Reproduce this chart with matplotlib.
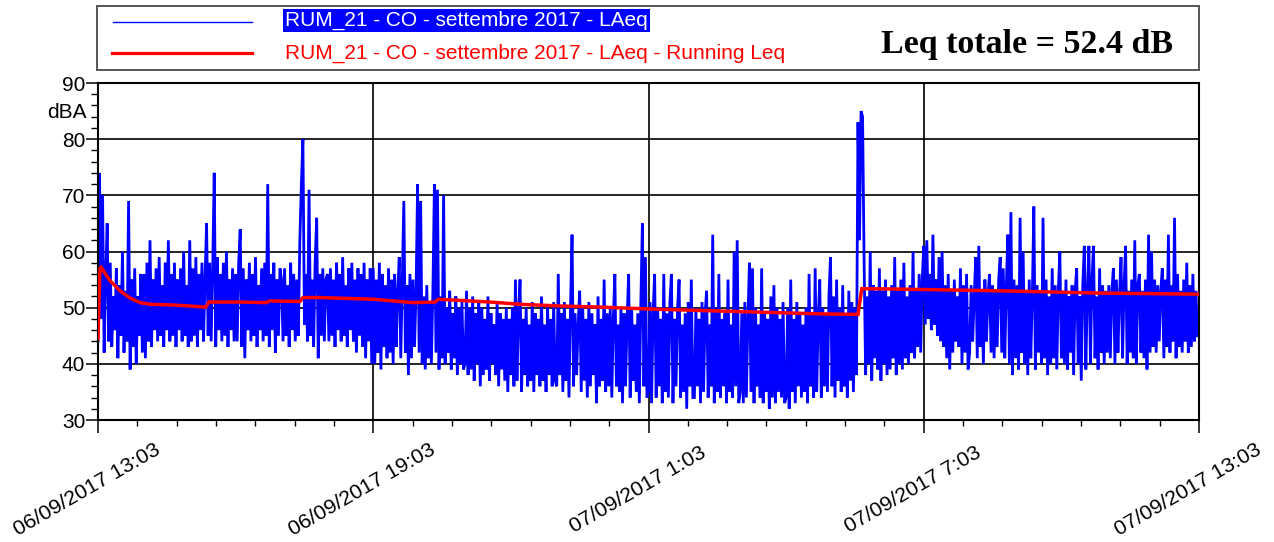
import numpy as np
import matplotlib
matplotlib.use("Agg")
import matplotlib.pyplot as plt
from matplotlib.lines import Line2D
from matplotlib.transforms import ScaledTranslation

# ---------------------------------------------------------------
# LAeq samples every 2 minutes starting 06/09/2017 13:03 (one row per hour)
laeq_rows = [
    [44, 74, 48, 70, 42, 55, 65, 44, 58, 43, 52, 46, 57, 41, 54, 45, 60, 42, 53, 44, 69, 39, 55, 43, 57, 40, 52, 45, 56, 42],
    [56, 41, 58, 44, 62, 43, 55, 46, 57, 44, 59, 45, 54, 43, 58, 46, 62, 44, 56, 45, 58, 43, 55, 46, 57, 44, 60, 45, 54, 43],
    [62, 44, 57, 45, 59, 43, 56, 46, 58, 44, 55, 65, 45, 58, 44, 57, 74, 43, 59, 46, 56, 44, 58, 45, 60, 43, 55, 46, 57, 44],
    [56, 44, 58, 64, 43, 57, 41, 55, 46, 58, 44, 56, 45, 59, 43, 54, 46, 57, 44, 58, 45, 72, 43, 56, 46, 58, 42, 55, 45, 57],
    [55, 44, 57, 45, 54, 43, 58, 46, 56, 44, 55, 45, 62, 72, 80, 47, 56, 44, 71, 45, 55, 43, 58, 66, 41, 56, 45, 57, 44, 55],
    [56, 44, 57, 45, 55, 43, 58, 46, 56, 44, 59, 45, 54, 43, 57, 46, 58, 44, 55, 42, 57, 45, 56, 43, 58, 41, 55, 44, 57, 40],
    [57, 40, 55, 42, 58, 39, 56, 43, 54, 41, 57, 42, 55, 40, 56, 43, 53, 59, 41, 55, 69, 42, 54, 38, 56, 41, 55, 43, 53, 72],
    [42, 69, 40, 52, 39, 54, 41, 51, 40, 53, 72, 42, 71, 39, 52, 41, 70, 40, 50, 42, 53, 39, 49, 41, 52, 38, 50, 40, 51, 39],
    [40, 53, 38, 50, 39, 52, 37, 49, 40, 51, 36, 50, 38, 48, 39, 52, 37, 49, 40, 47, 38, 51, 36, 49, 39, 48, 37, 50, 35, 48],
    [38, 50, 36, 55, 37, 49, 55, 35, 48, 38, 50, 36, 47, 37, 51, 35, 49, 38, 48, 36, 52, 37, 47, 35, 50, 38, 48, 36, 51, 37],
    [36, 56, 38, 49, 35, 51, 37, 48, 34, 50, 63, 36, 49, 38, 47, 53, 35, 50, 37, 48, 34, 51, 36, 49, 38, 47, 33, 52, 36, 48],
    [37, 55, 35, 49, 36, 50, 34, 48, 56, 36, 47, 35, 50, 33, 49, 36, 48, 56, 34, 50, 37, 47, 35, 49, 33, 51, 65, 36, 59, 34],
    [35, 51, 33, 49, 56, 34, 50, 36, 48, 33, 56, 35, 49, 34, 51, 56, 33, 48, 36, 50, 55, 34, 47, 35, 49, 32, 51, 36, 55, 34],
    [34, 50, 36, 48, 33, 51, 35, 49, 53, 34, 47, 36, 63, 33, 50, 35, 56, 34, 48, 36, 49, 33, 55, 35, 47, 34, 60, 36, 62, 33],
    [35, 49, 33, 51, 34, 48, 58, 35, 57, 33, 50, 36, 47, 34, 57, 33, 49, 35, 48, 32, 52, 34, 54, 33, 50, 35, 48, 34, 51, 33],
    [34, 50, 32, 55, 35, 48, 33, 51, 36, 49, 34, 47, 35, 50, 33, 56, 36, 49, 34, 57, 35, 48, 55, 34, 50, 36, 49, 35, 52, 59],
    [36, 52, 34, 55, 37, 50, 35, 54, 36, 49, 34, 53, 37, 51, 35, 50, 38, 83, 62, 85, 84, 58, 38, 52, 40, 60, 37, 54, 41, 53],
    [39, 57, 37, 53, 40, 55, 38, 52, 39, 54, 41, 59, 38, 53, 40, 55, 39, 58, 41, 52, 40, 54, 42, 60, 41, 53, 43, 56, 42, 55],
    [61, 47, 62, 48, 56, 46, 63, 47, 55, 45, 59, 44, 60, 43, 54, 41, 56, 39, 53, 42, 55, 44, 52, 43, 57, 40, 54, 42, 56, 39],
    [42, 54, 44, 52, 59, 41, 61, 43, 53, 40, 55, 44, 52, 56, 42, 54, 41, 53, 43, 55, 59, 42, 57, 41, 54, 63, 40, 67, 38, 55],
    [41, 54, 39, 66, 42, 60, 40, 53, 38, 55, 41, 52, 68, 39, 54, 42, 53, 40, 66, 41, 55, 38, 52, 40, 57, 41, 54, 39, 53, 60],
    [41, 53, 40, 55, 39, 52, 42, 54, 38, 53, 57, 40, 52, 37, 54, 61, 39, 53, 61, 40, 55, 61, 41, 52, 39, 57, 42, 54, 40, 53],
    [42, 54, 41, 53, 57, 40, 55, 42, 52, 59, 41, 54, 61, 40, 53, 42, 55, 41, 62, 40, 54, 56, 42, 53, 41, 55, 39, 63, 42, 60],
    [43, 55, 42, 54, 44, 53, 57, 41, 55, 43, 63, 42, 54, 44, 66, 41, 56, 43, 53, 42, 55, 44, 58, 42, 54, 43, 56, 44, 53, 45],
]
sample_step_min = 2

# Running Leq: (minutes since 13:03, dB)
running_t = [0, 2.6, 4, 15.7, 28.8, 41.9, 54.9, 68, 94, 120, 141, 145, 186, 220, 224, 264, 268,
             290, 360, 412, 441, 445, 513, 552, 604, 657, 735, 788, 866, 944, 994, 999, 1049,
             1180, 1310, 1440]
running_leq = [44.5, 57.0, 57.2, 54.8, 53.0, 51.7, 50.9, 50.6, 50.5, 50.3, 50.1, 51.0, 51.0, 50.9,
               51.2, 51.1, 51.8, 51.8, 51.5, 50.9, 51.0, 51.5, 51.0, 50.6, 50.3, 50.1, 49.7, 49.5,
               49.2, 48.9, 48.8, 53.4, 53.3, 53.0, 52.6, 52.4]

series_labels = ["RUM_21 - CO - settembre 2017 - LAeq",
                 "RUM_21 - CO - settembre 2017 - LAeq - Running Leq"]
leq_total = 52.4

x_tick_min = [0, 360, 720, 1080, 1440]
x_tick_labels = ["06/09/2017 13:03", "06/09/2017 19:03", "07/09/2017 1:03",
                 "07/09/2017 7:03", "07/09/2017 13:03"]
y_ticks = [30, 40, 50, 60, 70, 80, 90]

# ---------------------------------------------------------------
W, H = 1274, 542
DPI = 100
plt.rcParams["font.family"] = ["Liberation Sans", "DejaVu Sans"]
fig = plt.figure(figsize=(W / DPI, H / DPI), dpi=DPI)
fig.patch.set_facecolor("white")


def px_box(x0, y0, x1, y1):
    """Figure-fraction rectangle from pixel corners (top-left origin)."""
    return [x0 / W, 1 - y1 / H, (x1 - x0) / W, (y1 - y0) / H]


ax = fig.add_axes(px_box(98, 83, 1199, 420))

laeq = np.concatenate([np.asarray(r, dtype=float) for r in laeq_rows])
t = np.arange(laeq.size) * sample_step_min

ax.plot(t, laeq, color="#0000FF", lw=2.0, zorder=2, solid_joinstyle="miter")
ax.plot(running_t, running_leq, color="#FF0000", lw=2.5, zorder=3,
        solid_joinstyle="miter")

ax.set_xlim(0, 1440)
ax.set_ylim(30, 90)
ax.set_yticks(y_ticks)
ax.set_yticks(np.arange(30, 91, 2), minor=True)
ax.set_xticks(x_tick_min)
ax.set_xticks(np.linspace(0, 1440, 29), minor=True)
ax.set_xticklabels([])
ax.tick_params(axis="y", which="major", direction="out", length=8.6, width=1.1,
               labelsize=15, pad=0.5, colors="black")
ax.tick_params(axis="y", which="minor", direction="out", length=5, width=1.0)
ax.tick_params(axis="x", which="major", direction="out", length=9.4, width=1.1)
ax.tick_params(axis="x", which="minor", direction="out", length=4.3, width=1.0)

ax.set_axisbelow(True)
ax.grid(True, which="major", color="black", lw=1.2)
for s in ax.spines.values():
    s.set_linewidth(1.5)
    s.set_color("black")

# rotated date labels below the time axis
offset = ScaledTranslation(-11 / DPI, -70 / DPI, fig.dpi_scale_trans)
for xm, lab in zip(x_tick_min, x_tick_labels):
    ax.text(xm, 0, lab, transform=ax.get_xaxis_transform() + offset,
            rotation=30, rotation_mode="anchor", ha="center", va="center",
            fontsize=15.3, color="black", clip_on=False)

fig.text(87 / W, 1 - 118 / H, "dBA", ha="right", va="baseline", fontsize=15)

# ---------------------------------------------------------------
# legend panel
lg = fig.add_axes(px_box(97, 6, 1199, 70))
lg.set_xlim(0, 1102)
lg.set_ylim(64, 0)
lg.set_xticks([])
lg.set_yticks([])
for s in lg.spines.values():
    s.set_linewidth(1.4)
    s.set_color("#555555")

lg.add_line(Line2D([16, 155], [16, 16], color="#0000FF", lw=1.0))
lg.add_line(Line2D([15, 155], [47, 47], color="#FF0000", lw=2.3))
lg.text(188, 20, series_labels[0], color="white", fontsize=15, ha="left",
        va="baseline",
        bbox=dict(boxstyle="square,pad=0.1", facecolor="#0000FF", edgecolor="none"))
lg.text(188, 53, series_labels[1], color="#FF0000", fontsize=15, ha="left",
        va="baseline")
lg.text(1076, 47, f"Leq totale = {leq_total:.1f} dB", color="black",
        fontsize=24.5, fontweight="bold", family=["Liberation Serif", "DejaVu Serif"],
        ha="right", va="baseline")

fig.savefig("out.png", dpi=DPI, facecolor="white")
